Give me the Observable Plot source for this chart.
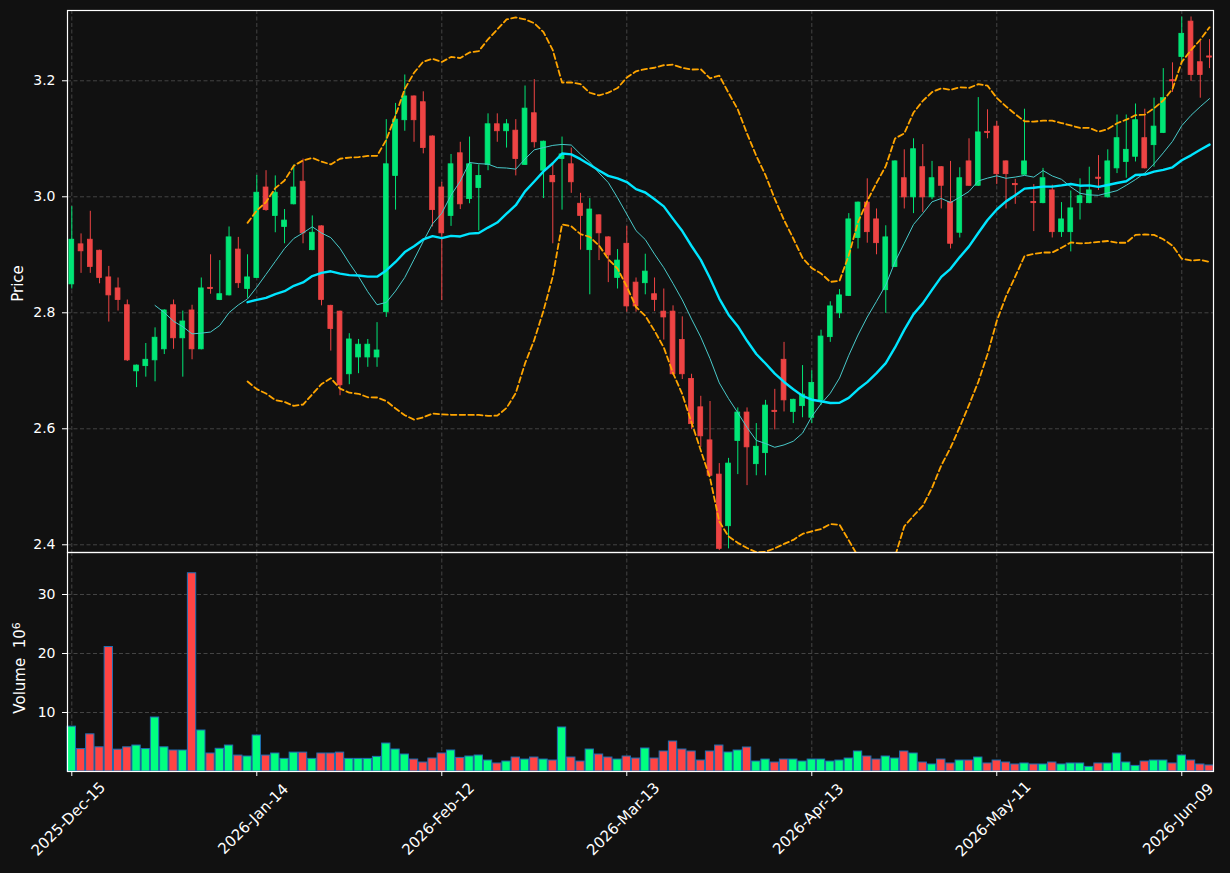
<!DOCTYPE html>
<html>
<head>
<meta charset="utf-8">
<script src="https://cdn.jsdelivr.net/npm/d3@7"></script>
<script src="https://cdn.jsdelivr.net/npm/@observablehq/plot@0.6"></script>
<style>
  html, body { margin: 0; padding: 0; background: #111111; }
  #chart { width: 1230px; height: 873px; background: #111111; }
  #chart svg { display: block; }
</style>
</head>
<body>
<div id="chart"></div>
<script>
// ---- Data (one entry per trading day, 2025-12-15 .. 2026-06-12) ----
const opens = [2.849,2.918,2.926,2.907,2.861,2.842,2.813,2.699,2.708,2.718,2.737,2.813,2.756,2.804,2.737,2.843,2.822,2.830,2.909,2.841,
2.860,3.016,2.967,2.948,2.987,3.026,2.908,2.949,2.812,2.802,2.694,2.723,2.723,2.723,2.801,3.036,3.132,3.173,3.163,3.104,
3.016,2.967,3.075,2.996,3.015,3.055,3.125,3.113,3.114,3.055,3.144,3.045,3.036,3.065,3.056,2.988,2.908,2.968,2.930,2.860,
2.919,2.852,2.851,2.832,2.802,2.802,2.753,2.686,2.637,2.580,2.521,2.432,2.579,2.628,2.539,2.558,2.631,2.719,2.629,2.639,
2.619,2.649,2.758,2.799,2.829,2.929,2.990,2.961,2.839,2.879,3.032,2.999,3.051,2.999,3.051,2.991,2.938,3.061,3.019,3.112,
3.121,3.061,3.022,3.038,2.991,2.989,3.011,2.939,2.939,2.989,2.989,3.033,2.999,3.049,3.060,3.069,3.101,3.089,3.110,3.201,
3.241,3.302,3.232,3.242];
const highs = [2.983,2.936,2.975,2.908,2.880,2.860,2.822,2.710,2.747,2.774,2.805,2.822,2.803,2.813,2.860,2.900,2.890,2.948,2.930,2.900,
3.037,3.045,3.036,2.978,3.055,3.065,2.967,2.950,2.813,2.803,2.764,2.754,2.754,2.783,3.133,3.161,3.210,3.174,3.181,3.105,
3.025,3.073,3.094,3.103,3.055,3.143,3.143,3.133,3.133,3.191,3.202,3.096,3.057,3.103,3.084,3.006,2.997,2.969,2.931,2.909,
2.949,2.860,2.901,2.860,2.841,2.812,2.793,2.694,2.656,2.647,2.540,2.549,2.636,2.636,2.609,2.649,2.668,2.749,2.651,2.709,
2.700,2.770,2.819,2.840,2.971,2.991,3.031,2.979,2.950,3.062,3.081,3.100,3.090,3.061,3.052,3.061,3.050,3.100,3.171,3.150,
3.130,3.062,3.030,3.151,3.021,3.049,3.020,2.990,3.010,3.031,3.051,3.071,3.081,3.141,3.141,3.160,3.151,3.170,3.221,3.231,
3.310,3.310,3.268,3.271];
const lows = [2.841,2.868,2.868,2.850,2.784,2.803,2.716,2.671,2.689,2.681,2.728,2.737,2.689,2.719,2.736,2.832,2.821,2.829,2.842,2.825,
2.859,2.975,2.938,2.919,2.986,2.919,2.907,2.812,2.734,2.657,2.676,2.695,2.706,2.706,2.792,2.977,3.113,3.094,3.074,2.948,
2.821,2.949,2.978,2.988,2.941,3.045,3.094,3.084,3.036,3.054,3.084,2.997,2.919,2.977,3.006,2.908,2.831,2.890,2.852,2.841,
2.801,2.801,2.831,2.802,2.753,2.692,2.685,2.599,2.568,2.518,2.390,2.393,2.521,2.502,2.519,2.519,2.598,2.629,2.609,2.619,
2.609,2.640,2.749,2.790,2.828,2.910,2.920,2.900,2.799,2.878,2.979,2.971,2.973,2.995,2.979,2.910,2.929,3.018,3.018,3.100,
3.021,2.979,2.987,3.037,2.940,2.988,2.929,2.930,2.905,2.960,2.988,3.011,2.998,3.040,3.032,3.060,3.048,3.051,3.109,3.180,
3.229,3.199,3.170,3.221];
const closes = [2.926,2.906,2.879,2.860,2.830,2.822,2.718,2.709,2.719,2.757,2.804,2.756,2.785,2.737,2.842,2.841,2.832,2.930,2.851,2.861,
3.007,2.977,3.007,2.959,3.016,2.937,2.938,2.822,2.772,2.675,2.754,2.745,2.745,2.735,3.056,3.133,3.173,3.132,3.084,2.977,
2.937,3.056,2.987,3.056,3.036,3.125,3.113,3.125,3.065,3.152,3.094,3.095,3.025,3.073,3.025,2.967,2.978,2.937,2.899,2.890,
2.811,2.811,2.871,2.822,2.792,2.694,2.694,2.608,2.587,2.519,2.393,2.540,2.628,2.568,2.569,2.640,2.629,2.649,2.650,2.659,
2.679,2.759,2.811,2.830,2.961,2.990,2.939,2.920,2.930,3.061,2.999,3.082,2.999,3.032,3.019,2.919,3.032,3.019,3.111,3.110,
3.039,3.039,3.020,3.061,2.989,3.032,2.939,2.961,2.980,3.001,3.011,3.031,3.061,3.101,3.081,3.132,3.049,3.121,3.170,3.199,
3.281,3.210,3.210,3.240];
// volume in millions
const volumes = [7.6,3.8,6.3,4.1,21.1,3.7,4.1,4.4,3.8,9.15,4.1,3.56,3.56,33.6,6.95,3.05,3.85,4.4,2.7,2.54,
6.1,2.7,3.05,2.14,3.2,3.2,2.14,3.05,3.05,3.2,2.14,2.14,2.14,2.48,4.74,3.73,2.88,2.03,1.52,2.2,
3.05,3.56,2.31,2.54,2.71,1.86,1.36,1.69,2.37,2.03,2.37,2.03,1.86,7.46,2.37,1.69,3.73,2.88,2.37,2.03,
2.54,2.2,3.9,2.2,3.39,5.08,3.73,3.39,1.86,3.39,4.4,3.22,3.56,4.07,1.69,2.03,1.52,2.03,2.03,1.69,
2.03,2.03,1.69,1.86,2.2,3.39,2.54,2.03,2.54,2.2,3.39,3.05,1.52,1.19,2.03,1.36,1.86,1.86,2.37,1.36,
1.86,1.52,1.19,1.36,1.19,1.19,1.52,1.19,1.36,1.36,0.78,1.36,1.36,3.05,1.52,0.95,1.69,1.86,1.86,1.36,
2.71,1.86,1.19,1.02];

const xTickIndex = [0, 20, 40, 60, 80, 100, 120];
const xTickLabels = ["2025-Dec-15", "2026-Jan-14", "2026-Feb-12", "2026-Mar-13", "2026-Apr-13", "2026-May-11", "2026-Jun-09"];
const priceTicks = [2.4, 2.6, 2.8, 3.0, 3.2];
const volumeTicks = [10, 20, 30];

// ---- Indicators derived from the closes (10/20-day means, 20-day ±2σ bands) ----
function rolling(n, fn) {
  return closes.map((_, i) => i < n - 1 ? NaN : fn(closes.slice(i - n + 1, i + 1)));
}
const ma10 = rolling(10, w => d3.mean(w));
const ma20 = rolling(20, w => d3.mean(w));
const sd20 = rolling(20, w => d3.deviation(w));
const bandUpper = ma20.map((m, i) => m + 2 * sd20[i]);
const bandLower = ma20.map((m, i) => m - 2 * sd20[i]);

const UP = "#00e676", DOWN = "#ee4444";
const VUP = "#00ff80", VDOWN = "#ff4444";

const rows = closes.map((c, i) => ({
  i, o: opens[i], h: highs[i], l: lows[i], c, v: volumes[i],
  up: c >= opens[i],
  ma10: ma10[i], ma20: ma20[i], bu: bandUpper[i], bl: bandLower[i]
}));

const W = 1230, ML = 67, MR = 17;
const xDomain = [-0.465, 123.43];
const font = "DejaVu Sans";
const style = {background: "#111111", color: "white", fontFamily: font, fontSize: "14px", overflow: "visible"};
const gridStyle = {stroke: "#444444", strokeOpacity: 1, strokeWidth: 1, strokeDasharray: "4,2.5"};
const bandStyle = {stroke: "#ffa500", strokeWidth: 1.8, strokeDasharray: "5.5,3.2", clip: true};

const pricePlot = Plot.plot({
  width: W, height: 552,
  marginTop: 10, marginBottom: 0, marginLeft: ML, marginRight: MR,
  style,
  x: {domain: xDomain, axis: null},
  y: {domain: [2.3867, 3.3212]},
  color: {type: "identity"},
  marks: [
    Plot.gridY(priceTicks, gridStyle),
    Plot.gridX(xTickIndex, gridStyle),
    Plot.ruleX(rows, {x: "i", y1: "l", y2: "h", stroke: d => d.up ? UP : DOWN, strokeWidth: 1}),
    Plot.rect(rows, {x1: d => d.i - 0.26, x2: d => d.i + 0.26, y1: "o", y2: "c",
      fill: d => d.up ? UP : DOWN, stroke: d => d.up ? UP : DOWN, strokeWidth: 0.8}),
    Plot.line(rows, {x: "i", y: "bu", ...bandStyle}),
    Plot.line(rows, {x: "i", y: "bl", ...bandStyle}),
    Plot.line(rows, {x: "i", y: "ma10", stroke: "#48c9c9", strokeWidth: 1}),
    Plot.line(rows, {x: "i", y: "ma20", stroke: "#00e5ff", strokeWidth: 2.4}),
    Plot.frame({stroke: "white", strokeWidth: 1.2}),
    Plot.axisY({ticks: priceTicks, tickFormat: d => d.toFixed(1), tickSize: 5, tickPadding: 7, fontSize: 14, label: null}),
    Plot.text(["Price"], {text: d => d, frameAnchor: "left", dx: -49, dy: 2, rotate: -90,
      textAnchor: "middle", fill: "white", fontSize: 15, fontFamily: font})
  ]
});

const volumePlot = Plot.plot({
  width: W, height: 321,
  marginTop: 0, marginBottom: 102, marginLeft: ML, marginRight: MR,
  style,
  x: {domain: xDomain},
  y: {domain: [0, 37.12]},
  color: {type: "identity"},
  marks: [
    Plot.gridY(volumeTicks, gridStyle),
    Plot.gridX(xTickIndex, gridStyle),
    Plot.rect(rows, {x1: d => d.i - 0.45, x2: d => d.i + 0.45, y1: 0, y2: "v",
      fill: d => d.up ? VUP : VDOWN, stroke: "#1f6fb4", strokeWidth: 1}),
    Plot.frame({stroke: "white", strokeWidth: 1.2}),
    Plot.axisY({ticks: volumeTicks, tickFormat: d => String(d), tickSize: 5, tickPadding: 7, fontSize: 14, label: null}),
    Plot.axisX({ticks: xTickIndex, tickFormat: () => "", tickSize: 5, label: null}),
    Plot.text(xTickIndex, {x: d => d, text: (d, k) => xTickLabels[k], frameAnchor: "bottom", dy: 51,
      rotate: -45, textAnchor: "middle", fill: "white", fontSize: 15, fontFamily: font}),
    Plot.text(["Volume\u00a0\u00a010"], {text: d => d, frameAnchor: "left", dx: -47, dy: 6, rotate: -90,
      textAnchor: "middle", fill: "white", fontSize: 15, fontFamily: font})
  ]
});

// superscript exponent of the volume label, kept as real text
d3.select(volumePlot).selectAll("text")
  .filter(function () { return this.textContent.startsWith("Volume"); })
  .append("tspan").attr("dy", "-0.45em").attr("font-size", "0.72em").text("6");

const chart = document.getElementById("chart");
chart.appendChild(pricePlot);
chart.appendChild(volumePlot);
</script>
</body>
</html>
